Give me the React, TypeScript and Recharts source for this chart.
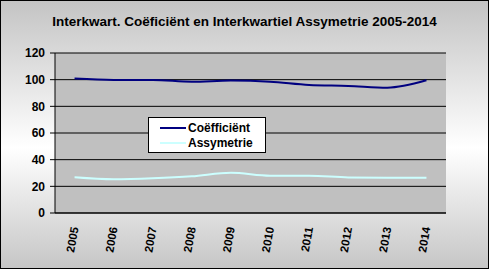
import React from "react";
import {
  LineChart,
  Line,
  XAxis,
  YAxis,
  CartesianGrid,
} from "recharts";

const years = ["2005", "2006", "2007", "2008", "2009", "2010", "2011", "2012", "2013", "2014"];
const coefficient = [100.8, 99.8, 99.8, 98.5, 99.3, 98.5, 96, 95.3, 94, 99.5];
const assymetrie = [26.8, 25.3, 26, 27.5, 30.2, 28, 28, 26.7, 26.5, 26.5];
const yTicks = [0, 20, 40, 60, 80, 100, 120];
const boundaryTicks = [0, 1, 2, 3, 4, 5, 6, 7, 8, 9, 10];

const data = years.map((year, i) => ({
  year,
  coef: coefficient[i],
  asym: assymetrie[i],
}));

const font = "'Liberation Sans', Arial, sans-serif";

const YearTick = (props: any) => {
  const { x, y, payload } = props;
  return (
    <text
      x={x}
      y={y + 6}
      transform={`rotate(-80, ${x}, ${y + 6})`}
      textAnchor="end"
      dominantBaseline="central"
      fontFamily={font}
      fontWeight="bold"
      fontSize={11.5}
      fill="#000"
    >
      {payload.value}
    </text>
  );
};

// legend drawn as a plain box so it takes no space from the plot
const LegendBox = () => (
  <div
    style={{
      position: "absolute",
      left: 147,
      top: 116,
      width: 118,
      height: 36,
      background: "#fff",
      border: "1px solid #000",
      fontFamily: font,
      fontWeight: "bold",
      fontSize: 12,
      boxSizing: "border-box",
      paddingTop: 2,
    }}
  >
    {[
      { name: "Coëfficiënt", color: "#000080" },
      { name: "Assymetrie", color: "#ccffff" },
    ].map((item) => (
      <div key={item.name} style={{ display: "flex", alignItems: "center", height: 15 }}>
        <div style={{ width: 26, height: 2, background: item.color, marginLeft: 11, marginRight: 2 }} />
        <span>{item.name}</span>
      </div>
    ))}
  </div>
);

export default function App() {
  return (
    <div
      style={{
        position: "absolute",
        left: 0,
        top: 0,
        width: 489,
        height: 269,
        boxSizing: "border-box",
        border: "1px solid #000",
        background: "linear-gradient(to bottom, #c4c4c4 0%, #ffffff 55%, #c6c6c6 100%)",
      }}
    >
      <div
        style={{
          position: "absolute",
          left: -1,
          top: 13,
          width: 489,
          textAlign: "center",
          fontFamily: font,
          fontWeight: "bold",
          fontSize: 13.5,
        }}
      >
        Interkwart. Coëficiënt en Interkwartiel Assymetrie 2005-2014
      </div>
      <div style={{ position: "absolute", left: -1, top: -1 }}>
        <LineChart
          width={489}
          height={269}
          data={data}
          margin={{ top: 53, right: 43, bottom: 0, left: 0 }}
        >
          <CartesianGrid
            vertical={false}
            horizontal
            stroke="#000"
            fill="#c0c0c0"
            fillOpacity={1}
          />
          <XAxis
            xAxisId="ticks"
            type="number"
            domain={[0, 10]}
            ticks={boundaryTicks}
            height={0}
            tick={() => <g />}
            tickLine={{ stroke: "#000" }}
            tickSize={4}
            axisLine={{ stroke: "#000" }}
            allowDataOverflow
          />
          <XAxis
            dataKey="year"
            scale="band"
            height={56}
            tickLine={false}
            axisLine={{ stroke: "#000" }}
            tick={<YearTick />}
            interval={0}
          />
          <XAxis
            xAxisId="top"
            orientation="top"
            dataKey="year"
            height={0}
            tick={false}
            tickLine={false}
            axisLine={{ stroke: "#808080" }}
          />
          <YAxis
            domain={[0, 120]}
            ticks={yTicks}
            width={55}
            interval={0}
            tickSize={5}
            tickLine={{ stroke: "#000" }}
            axisLine={{ stroke: "#000" }}
            tick={{ fill: "#000", fontFamily: font, fontWeight: "bold", fontSize: 12, dx: -3 }}
          />
          <YAxis
            yAxisId="right"
            orientation="right"
            domain={[0, 120]}
            width={0}
            tick={false}
            tickLine={false}
            axisLine={{ stroke: "#808080" }}
          />
          <Line
            type="monotone"
            dataKey="coef"
            name="Coëfficiënt"
            stroke="#000080"
            strokeWidth={2}
            dot={false}
            isAnimationActive={false}
          />
          <Line
            type="monotone"
            dataKey="asym"
            name="Assymetrie"
            stroke="#ccffff"
            strokeWidth={2}
            dot={false}
            isAnimationActive={false}
          />
        </LineChart>
      </div>
      <LegendBox />
    </div>
  );
}
